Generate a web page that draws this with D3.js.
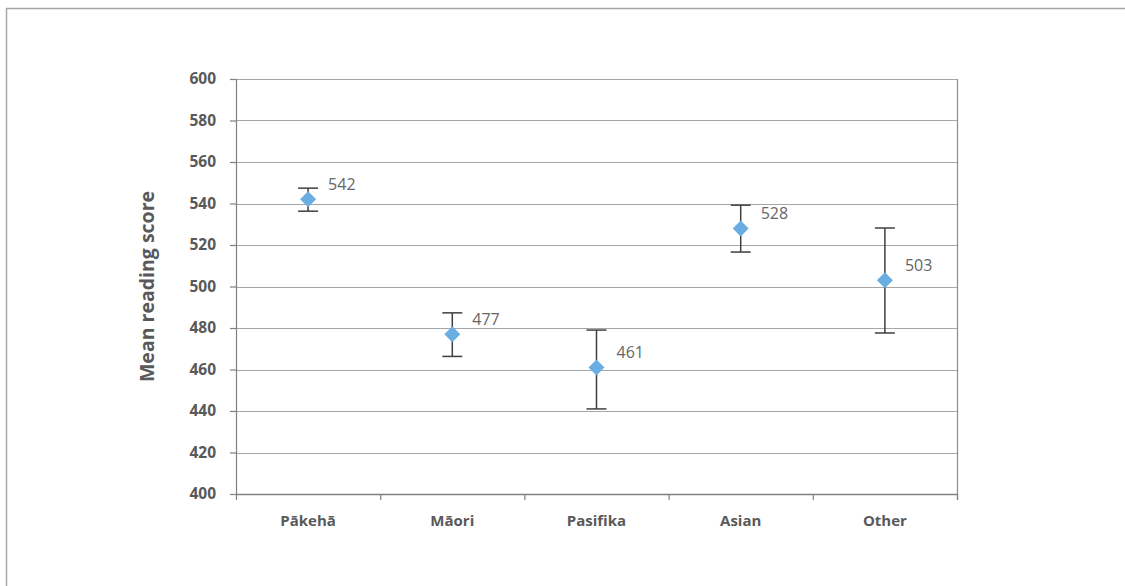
<!DOCTYPE html>
<html>
<head>
<meta charset="utf-8">
<script src="https://cdn.jsdelivr.net/npm/d3@7/dist/d3.min.js"></script>
<style>
  html, body { margin: 0; padding: 0; background: #fff; }
  svg { display: block; }
</style>
</head>
<body>
<svg id="chart" width="1125" height="586"></svg>
<script>
// Mean reading score by ethnic group, with confidence intervals
const categories = ["Pākehā", "Māori", "Pasifika", "Asian", "Other"];
const meanScores = [542, 477, 461, 528, 503];
const lowerBounds = [536.3, 466.3, 441, 516.6, 477.6];
const upperBounds = [547.4, 487.3, 479, 539.2, 528.2];
const yTicks = [400, 420, 440, 460, 480, 500, 520, 540, 560, 580, 600];

const svg = d3.select("#chart");
const W = 1125, H = 586;
const margin = { left: 236, right: 168, top: 79, bottom: 92 };
const plotW = W - margin.left - margin.right;
const plotH = H - margin.top - margin.bottom;
const textColor = "#595959";
const font = "'Open Sans', 'Noto Sans', sans-serif";

// outer frame
svg.append("path")
  .attr("d", `M6.5,${H} V8.5 H${W}`)
  .attr("fill", "none")
  .attr("stroke", "#a6a6a6")
  .attr("stroke-width", 1.5);

const g = svg.append("g").attr("transform", `translate(${margin.left},${margin.top})`);

const x = d3.scaleBand().domain(categories).range([0, plotW]).padding(0);
const y = d3.scaleLinear().domain([400, 600]).range([plotH, 0]);

// horizontal gridlines
g.append("g")
  .selectAll("line")
  .data(yTicks.filter(t => t > 400))
  .join("line")
  .attr("x1", 0).attr("x2", plotW)
  .attr("y1", d => Math.round(y(d)) + 0.5).attr("y2", d => Math.round(y(d)) + 0.5)
  .attr("stroke", "#a6a6a6").attr("stroke-width", 1.2);

// right border of plot
g.append("line")
  .attr("x1", plotW + 0.5).attr("x2", plotW + 0.5)
  .attr("y1", 0).attr("y2", plotH + 6)
  .attr("stroke", "#8c8c8c").attr("stroke-width", 1.2);

// y axis
const yAxis = g.append("g")
  .call(d3.axisLeft(y).tickValues(yTicks).tickSize(6).tickPadding(14).tickFormat(d3.format("d")));
yAxis.select(".domain").attr("stroke", "#808080").attr("stroke-width", 1.2);
yAxis.selectAll(".tick line").attr("stroke", "#808080").attr("stroke-width", 1.2);
yAxis.selectAll(".tick text")
  .attr("fill", textColor)
  .style("font-family", font)
  .style("font-size", "15.5px")
  .style("font-weight", "bold");

// x axis with ticks at category boundaries
const xAxisG = g.append("g").attr("transform", `translate(0,${plotH})`);
xAxisG.append("line")
  .attr("x1", 0).attr("x2", plotW)
  .attr("y1", 0.5).attr("y2", 0.5)
  .attr("stroke", "#808080").attr("stroke-width", 1.5);
xAxisG.selectAll("line.bound")
  .data(categories.concat([null]))
  .join("line")
  .attr("class", "bound")
  .attr("x1", (d, i) => x.step() * i + 0.5)
  .attr("x2", (d, i) => x.step() * i + 0.5)
  .attr("y1", 0).attr("y2", 6)
  .attr("stroke", "#808080").attr("stroke-width", 1.2);
xAxisG.selectAll("text")
  .data(categories)
  .join("text")
  .attr("x", d => x(d) + x.bandwidth() / 2)
  .attr("y", 32)
  .attr("text-anchor", "middle")
  .attr("fill", textColor)
  .style("font-family", font)
  .style("font-size", "15px")
  .style("font-weight", "bold")
  .text(d => d);

// y axis title
svg.append("text")
  .attr("transform", `translate(154,${margin.top + plotH / 2}) rotate(-90)`)
  .attr("text-anchor", "middle")
  .attr("fill", textColor)
  .style("font-family", font)
  .style("font-size", "19.5px")
  .style("font-weight", "bold")
  .text("Mean reading score");

// error bars, markers and value labels
const points = categories.map((c, i) => ({
  cat: c, mean: meanScores[i], lo: lowerBounds[i], hi: upperBounds[i]
}));
const cx = d => x(d.cat) + x.bandwidth() / 2;
const capW = 10;
const errColor = "#3f3f3f";

const pg = g.append("g").selectAll("g").data(points).join("g");
pg.append("line")
  .attr("x1", cx).attr("x2", cx)
  .attr("y1", d => y(d.hi)).attr("y2", d => y(d.lo))
  .attr("stroke", errColor).attr("stroke-width", 1.5);
pg.append("line")
  .attr("x1", d => cx(d) - capW).attr("x2", d => cx(d) + capW)
  .attr("y1", d => y(d.hi)).attr("y2", d => y(d.hi))
  .attr("stroke", errColor).attr("stroke-width", 1.5);
pg.append("line")
  .attr("x1", d => cx(d) - capW).attr("x2", d => cx(d) + capW)
  .attr("y1", d => y(d.lo)).attr("y2", d => y(d.lo))
  .attr("stroke", errColor).attr("stroke-width", 1.5);
pg.append("path")
  .attr("transform", d => `translate(${cx(d)},${y(d.mean)})`)
  .attr("d", "M0,-8 L8,0 L0,8 L-8,0 Z")
  .attr("fill", "#6aaee1");
pg.append("text")
  .attr("x", d => cx(d) + 20)
  .attr("y", d => y(d.mean) - 9)
  .attr("fill", "#666666")
  .style("font-family", font)
  .style("font-size", "16px")
  .text(d => d.mean);
</script>
</body>
</html>
